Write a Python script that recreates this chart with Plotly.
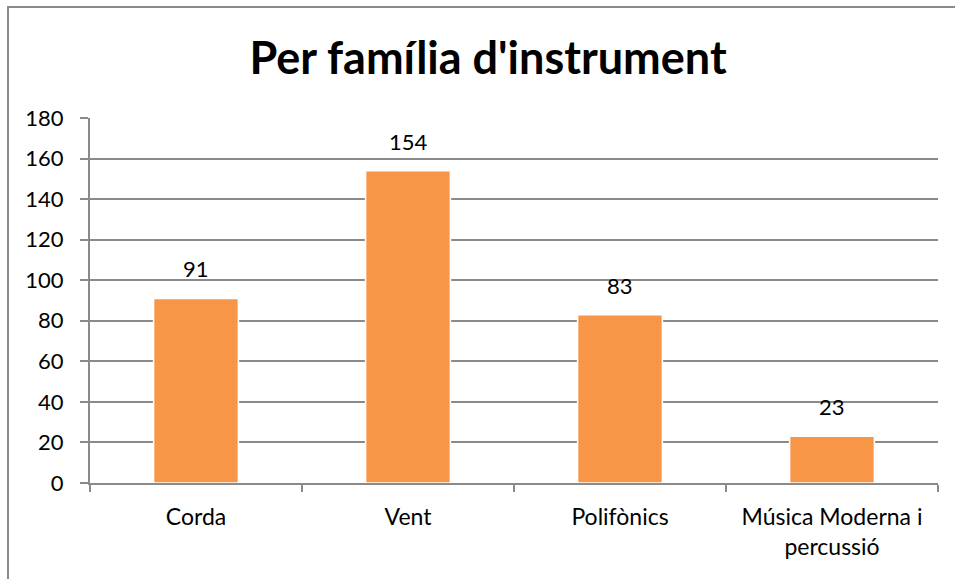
import plotly.graph_objects as go

categories = ["Corda", "Vent", "Polifònics", "Música Moderna i<br>percussió"]
values = [91, 154, 83, 23]
y_ticks = [0, 20, 40, 60, 80, 100, 120, 140, 160, 180]

FONT = "Lato"
GRID = "#8a8a8a"

fig = go.Figure(go.Bar(
    x=categories, y=values,
    marker=dict(color="#F79646", line=dict(color="white", width=1.5)),
    cliponaxis=False,
))

L, R, T, B = 90, 17, 118, 96
W, H = 955, 579
pw, ph = W - L - R, H - T - B

annotations = [
    dict(x=c, y=v, xref="x", yref="y", text=str(v), showarrow=False,
         yanchor="bottom", yshift=14,
         font=dict(family=FONT, size=22, color="black"))
    for c, v in zip(categories, values)
]

fig.update_layout(
    width=W, height=H,
    margin=dict(l=L, r=R, t=T, b=B),
    paper_bgcolor="white", plot_bgcolor="white",
    bargap=0.6,
    showlegend=False,
    title=dict(text="<b>Per família d'instrument</b>", x=0.511, xanchor="center",
               y=1 - 58 / H, yanchor="middle",
               font=dict(family=FONT, size=45, color="black")),
    xaxis=dict(
        showline=True, linecolor=GRID, linewidth=2,
        ticks="outside", tickson="boundaries", ticklen=7, tickcolor=GRID, tickwidth=2,
        showgrid=False, ticklabelstandoff=12,
        tickfont=dict(family=FONT, size=23, color="black"),
    ),
    yaxis=dict(
        range=[0, 180], tickvals=y_ticks,
        showline=True, linecolor=GRID, linewidth=2,
        ticks="outside", ticklen=8, tickcolor=GRID, tickwidth=2,
        showgrid=True, gridcolor=GRID, gridwidth=1.5,
        zeroline=False, ticklabelstandoff=12,
        tickfont=dict(family=FONT, size=22, color="black"),
    ),
    annotations=annotations,
    shapes=[dict(
        type="rect", xref="paper", yref="paper",
        x0=(8 - L) / pw, x1=(W + 5 - L) / pw,
        y0=-(H + 5 - (H - B)) / ph, y1=((H - B) - 7) / ph,
        line=dict(color=GRID, width=2), fillcolor="rgba(0,0,0,0)", layer="below",
    )],
)

fig.write_html("out.html", config={"displayModeBar": False},
               post_script="document.body.style.margin='0';")
